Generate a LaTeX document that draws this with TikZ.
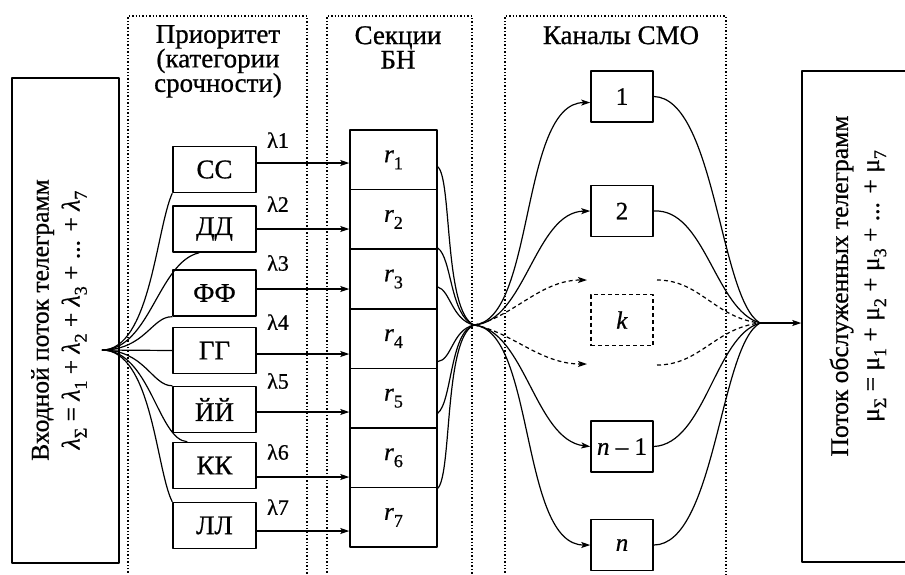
\documentclass[tikz,border=0pt]{standalone}
\usepackage{fontspec}
\setmainfont{Liberation Serif}[FakeBold=0.7]
\usetikzlibrary{arrows.meta}
\newcommand\SubX[2]{#1\raisebox{-0.28em}{\fontsize{18}{18}\selectfont #2}}
\begin{document}
\begin{tikzpicture}[x=1pt,y=-1pt,line join=round,
  arr/.style={-{Stealth[length=9pt,width=6pt,inset=2pt]},line width=1.2pt},
  ln/.style={line width=1.2pt},
  dln/.style={line width=1.2pt,dash pattern=on 4pt off 3pt},
  bx/.style={draw,line width=1.5pt,inner sep=0pt,font=\fontsize{27}{27}\selectfont},
  pbox/.style={bx,minimum width=83pt,minimum height=46pt},
  cell/.style={bx,minimum width=87pt,minimum height=59.6pt,font=\fontsize{25}{25}\selectfont},
  chan/.style={bx,minimum width=62pt,minimum height=51pt,font=\fontsize{25}{25}\selectfont},
  col/.style={draw,line width=1.4pt,dash pattern=on 1.4pt off 2pt},
  hd/.style={font=\fontsize{27}{24.5}\selectfont,align=center,inner sep=0pt,anchor=north},
  lam/.style={font=\fontsize{22}{22}\selectfont,inner sep=0pt},
  vt/.style={rotate=90,align=center,inner sep=0pt,font=\fontsize{25.5}{31}\selectfont}]

\path[use as bounding box] (0,0) rectangle (905,574);
\clip (0,0) rectangle (905,574);

% dotted columns
\draw[col] (128,600) -- (128,16) -- (307,16) -- (307,600);
\draw[col] (327,600) -- (327,16) -- (472,16) -- (472,600);
\draw[col] (505,600) -- (505,16) -- (726,16) -- (726,600);

% headings
\node[hd] (h1) at (218,25) {Приоритет\\(категории\\срочности)};
\node[hd] (h2) at (398,26) {Секции\\БН};
\node[hd] (h3) at (621,26) {Каналы СМО};

% input / output boxes
\node[bx,minimum width=107pt,minimum height=485pt] (inp) at (65.5,320.5) {};
\node[vt] (inpt) at (59,320) {Входной поток телеграмм\\
  \SubX{\textit{λ}}{Σ} = \SubX{\textit{λ}}{1} + \SubX{\textit{λ}}{2} + \SubX{\textit{λ}}{3} + ... + \SubX{\textit{λ}}{7}};
\node[bx,minimum width=116pt,minimum height=491pt] (out) at (860,316.5) {};
\node[vt] (outt) at (858,286) {Поток обслуженных телеграмм\\
  \SubX{μ}{Σ} = \SubX{μ}{1} + \SubX{μ}{2} + \SubX{μ}{3} + ... + \SubX{μ}{7}};

% priority boxes
\node[pbox] (p1) at (214.5,169.5) {СС};
\node[pbox] (p2) at (214.5,229) {ДД};
\node[pbox] (p3) at (214.5,293) {ФФ};
\node[pbox] (p4) at (214.5,350.5) {ГГ};
\node[pbox] (p5) at (214.5,409.5) {ЙЙ};
\node[pbox] (p6) at (214.5,465.5) {КК};
\node[pbox] (p7) at (214.5,525.5) {ЛЛ};

% buffer cells
\node[cell] (r1) at (393.5,159.8) {\SubX{\textit{r}}{1}};
\node[cell] (r2) at (393.5,219.4) {\SubX{\textit{r}}{2}};
\node[cell] (r3) at (393.5,279.0) {\SubX{\textit{r}}{3}};
\node[cell] (r4) at (393.5,338.6) {\SubX{\textit{r}}{4}};
\node[cell] (r5) at (393.5,398.2) {\SubX{\textit{r}}{5}};
\node[cell] (r6) at (393.5,457.8) {\SubX{\textit{r}}{6}};
\node[cell] (r7) at (393.5,517.4) {\SubX{\textit{r}}{7}};

% channels
\node[chan] (c1) at (622,96.5) {1};
\node[chan] (c2) at (622,211) {2};
\node[chan,dash pattern=on 4pt off 3pt,line width=1.3pt] (ck) at (622,320) {\textit{k}};
\node[chan] (cn1) at (622,446.5) {\textit{n} – 1};
\node[chan] (cn) at (622,545) {\textit{n}};

% lambda labels
\node[lam] (l1) at (278,140) {λ1};
\node[lam] (l2) at (278,204) {λ2};
\node[lam] (l3) at (278,263) {λ3};
\node[lam] (l4) at (278,322) {λ4};
\node[lam] (l5) at (278,381) {λ5};
\node[lam] (l6) at (278,452) {λ6};
\node[lam] (l7) at (278,507) {λ7};

% arrow levels
\coordinate (a1) at (0,163);
\coordinate (a2) at (0,229);
\coordinate (a3) at (0,289);
\coordinate (a4) at (0,354);
\coordinate (a5) at (0,412);
\coordinate (a6) at (0,477);
\coordinate (a7) at (0,531);
\draw[arr] (p1.east |- a1) -- (r1.west |- a1);
\draw[arr] (p2.east |- a2) -- (r2.west |- a2);
\draw[arr] (p3.east |- a3) -- (r3.west |- a3);
\draw[arr] (p4.east |- a4) -- (r4.west |- a4);
\draw[arr] (p5.east |- a5) -- (r5.west |- a5);
\draw[arr] (p6.east |- a6) -- (r6.west |- a6);
\draw[arr] (p7.east |- a7) -- (r7.west |- a7);

% input fan
\coordinate (P) at (102,350);
\draw[ln] (P) .. controls (150,350) and (156,230) .. (p1.south west);
\draw[ln] (P) .. controls (150,350) and (158,262) .. ([xshift=27pt]p2.south west);
\draw[ln] (P) .. controls (145,350) and (152,316) .. (p3.south west);
\draw[ln] (P) -- (p4.west);
\draw[ln] (P) .. controls (145,350) and (152,386) .. (p5.north west);
\draw[ln] (P) .. controls (150,350) and (158,440) .. ([xshift=15pt]p6.north west);
\draw[ln] (P) .. controls (152,350) and (156,470) .. (p7.north west);

% buffer fan
\coordinate (Q) at (474,325);
\draw[ln] ([yshift=-7pt]r1.east) .. controls (452,178) and (444,312) .. (Q);
\draw[ln] ([yshift=2pt]r2.south east) .. controls (452,258) and (450,316) .. (Q);
\draw[ln] ([yshift=-8pt]r3.east) .. controls (450,290) and (452,320) .. (Q);
\draw[ln] ([yshift=-23pt]r4.east) .. controls (452,360) and (452,330) .. (Q);
\draw[ln] ([yshift=-15pt]r5.east) .. controls (452,402) and (450,332) .. (Q);
\draw[ln] (r6.south east) .. controls (452,474) and (444,338) .. (Q);

% to channels
\coordinate (dk1) at (587,280);
\coordinate (dk2) at (587,364);
\draw[arr] (Q) .. controls (535,320) and (520,103) .. ([yshift=-6pt]c1.west);
\draw[arr] (Q) .. controls (525,322) and (535,212) .. (c2.west);
\draw[arr,dash pattern=on 4pt off 3pt] (Q) .. controls (512,318) and (540,280) .. (dk1);
\draw[arr,dash pattern=on 4pt off 3pt] (Q) .. controls (512,332) and (540,364) .. (dk2);
\draw[arr] (Q) .. controls (525,330) and (535,440) .. (cn1.west);
\draw[arr] (Q) .. controls (535,330) and (520,545) .. (cn.west);

% output fan
\coordinate (R) at (760,323);
\coordinate (ek1) at (657,280);
\coordinate (ek2) at (657,365);
\draw[ln] (c1.east) .. controls (715,98) and (720,300) .. (R);
\draw[ln] (c2.east) .. controls (705,208) and (715,310) .. (R);
\draw[dln] (ek1) .. controls (700,280) and (715,318) .. (R);
\draw[dln] (ek2) .. controls (700,365) and (715,328) .. (R);
\draw[ln] (cn1.east) .. controls (705,444) and (715,336) .. (R);
\draw[ln] (cn.east) .. controls (715,545) and (720,345) .. (R);
\draw[arr] (R) -- (out.west |- R);
\end{tikzpicture}
\end{document}
